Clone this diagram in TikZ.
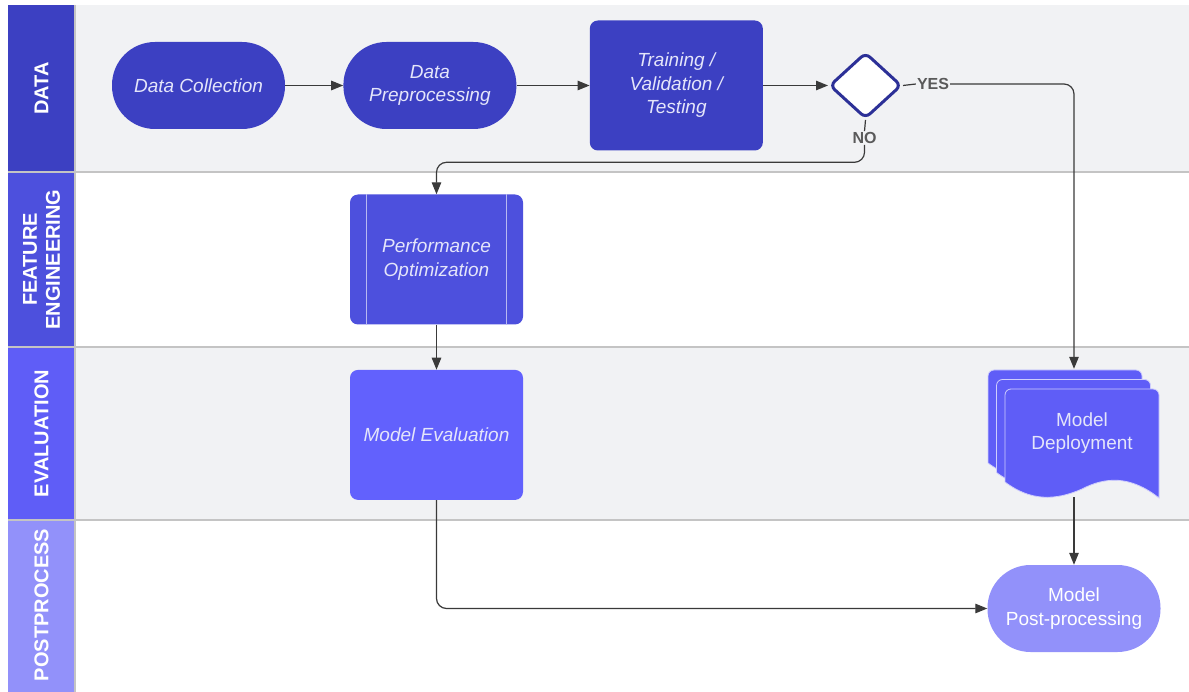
\documentclass[tikz,border=0pt]{standalone}
\usepackage{fontspec}
\setmainfont{Liberation Sans}
\usepackage{tikz}
\usetikzlibrary{positioning,arrows.meta,shapes.geometric}
\usepackage{xcolor}

\definecolor{laneback}{HTML}{F1F2F4}
\definecolor{sepline}{HTML}{C4C4C4}
\definecolor{dataC}{HTML}{3C40C2}
\definecolor{featC}{HTML}{4D50DD}
\definecolor{evalC}{HTML}{5F5DF7}
\definecolor{evalbox}{HTML}{6261FD}
\definecolor{postC}{HTML}{9291FA}
\definecolor{decC}{HTML}{2C3097}
\definecolor{wire}{HTML}{3A3A3A}
\definecolor{tagC}{HTML}{5A5A5A}
\definecolor{boxtext}{HTML}{E4E5FA}

\begin{document}
\begin{tikzpicture}[
x=1pt,
y=-1pt,
>={Triangle[length=12pt,width=9.5pt]},
lanehead/.style={
rotate=90,
text=white,
align=center,
font=\fontsize{20}{23}\selectfont\bfseries
},
terminal/.style={
rectangle,
rounded corners=43pt,
minimum width=173pt,
minimum height=87pt,
text=boxtext,
align=center,
font=\fontsize{19}{23.5}\selectfont\itshape
},
process/.style={
rectangle,
rounded corners=8pt,
minimum width=173pt,
minimum height=130pt,
text=boxtext,
align=center,
font=\fontsize{19}{23.5}\selectfont\itshape
},
decision/.style={
diamond,
draw=decC,
line width=3pt,
fill=white,
rounded corners=6pt,
minimum width=72pt,
minimum height=66pt,
inner sep=0pt
},
tag/.style={
text=tagC,
inner sep=1pt,
font=\fontsize{16}{18}\selectfont\bfseries
},
link/.style={
draw=wire,
line width=1.2pt,
rounded corners=10pt
},
flow/.style={
link,
->
},
laneline/.style={
draw=sepline,
line width=1.6pt
}
]

\useasboundingbox (0,0) rectangle (1189,692);

% swimlanes
\fill[laneback] (75,5) rectangle (1189,172);
\fill[laneback] (75,347) rectangle (1189,520);
\fill[dataC] (8,5) rectangle (75,172);
\fill[featC] (8,172) rectangle (75,347);
\fill[evalC] (8,347) rectangle (75,520);
\fill[postC] (8,520) rectangle (75,692);
\foreach \y in {172,347,520}
\draw[laneline] (8,\y) -- (1189,\y);
\draw[laneline] (75,5) -- (75,692);

\node[lanehead] (hdata) at (41.5,88.5) {DATA};
\node[lanehead] (hfeat) at (41.5,259.5) {FEATURE\\ENGINEERING};
\node[lanehead] (heval) at (41.5,433.5) {EVALUATION};
\node[lanehead] (hpost) at (41.5,605) {POSTPROCESS};

% data lane
\node[terminal,fill=dataC] (dc) at (198.5,85.5) {Data Collection};
\node[terminal,fill=dataC,right=58pt of dc] (dp) {Data\\Preprocessing};
\node[process,fill=dataC,right=73pt of dp] (tvt) {Training /\\Validation /\\Testing};
\node[decision,right=65pt of tvt] (dec) {};
\node[tag] (yes) at (933,84) {YES};
\node[tag] (no) at (864.5,138) {NO};

% feature engineering + evaluation
\node[process,fill=featC] (po) at (436.5,259.5) {Performance\\Optimization};
\draw[white!60!featC,line width=1pt]
([xshift=17pt]po.north west) -- ([xshift=17pt]po.south west)
([xshift=-17pt]po.north east) -- ([xshift=-17pt]po.south east);
\node[process,fill=evalbox,below=45pt of po] (me) {Model Evaluation};

% model deployment (stacked documents)
\foreach \d in {0,1,2}{
\begin{scope}[shift={({988+8.5*\d},{370+9.5*\d})}]
\path[fill=evalC,draw=white!70!evalC,line width=0.8pt]
(154,109) .. controls (125,86) and (100,88) .. (77,100)
.. controls (50,112) and (25,112) .. (0,93)
[rounded corners=6pt] -- (0,0) -- (154,0) [sharp corners] -- cycle;
\end{scope}
}
\node[text=boxtext,align=center,minimum width=154pt,minimum height=128pt,
font=\fontsize{19}{23.5}\selectfont] (md) at (1082,433) {Model\\Deployment};

\node[terminal,fill=postC,text=white,font=\fontsize{19}{23.5}\selectfont] (pp) at (1074,608.5) {Model\\Post-processing};

% connectors
\draw[flow] (dc) -- (dp);
\draw[flow] (dp) -- (tvt);
\draw[flow] (tvt) -- (dec);
\draw[link] (dec.east) -- (yes.west);
\draw[flow] (yes.east) -| (md.north -| pp.north);
\draw[link] (dec.south) -- (no.north);
\draw[flow] (no.south) |- ([yshift=32pt]po.north) -- (po.north);
\draw[flow] (po) -- (me);
\draw[flow] (me.south) |- (pp.west);
\draw[flow] (md.south -| pp.north) -- (pp.north);

\end{tikzpicture}
\end{document}
